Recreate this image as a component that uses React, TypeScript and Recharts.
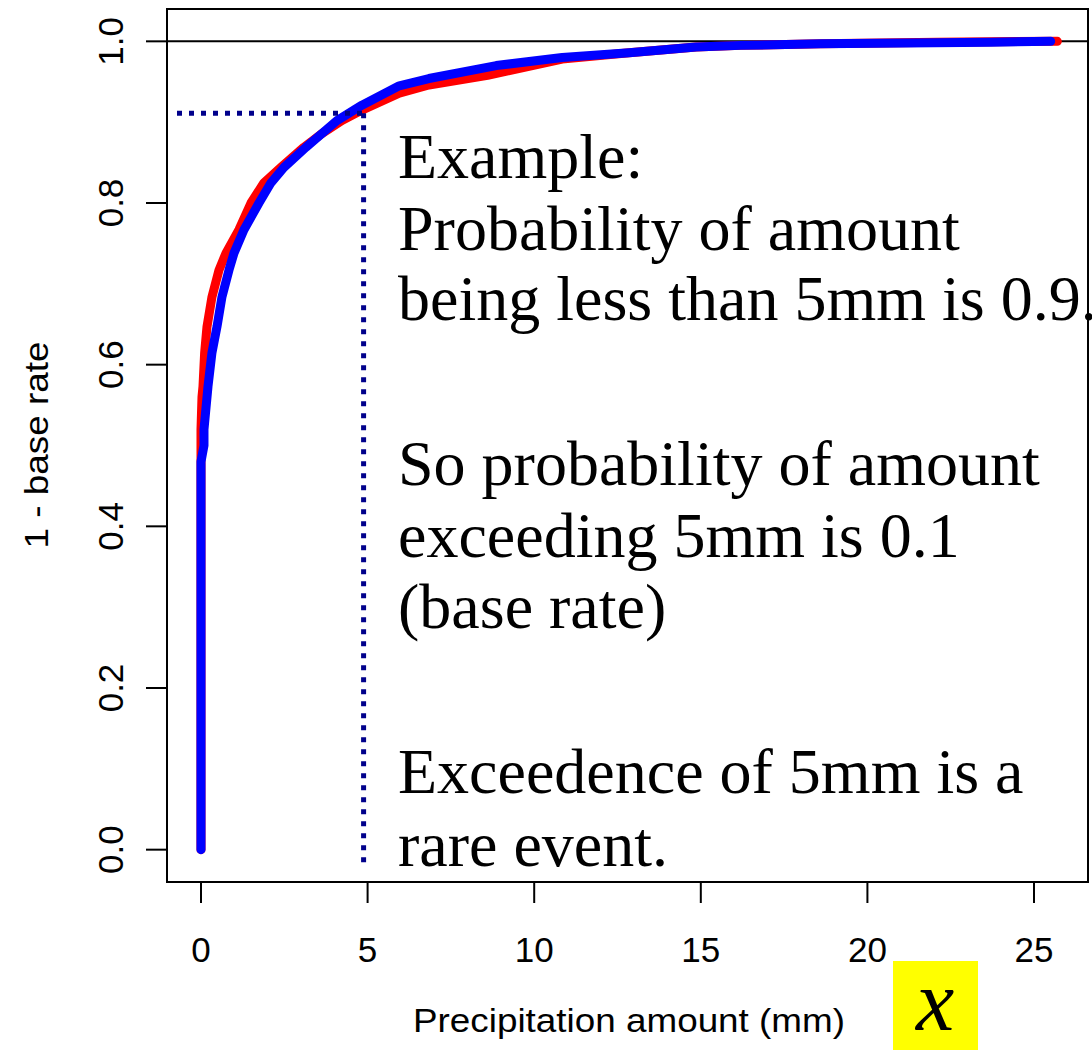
import { LineChart, Line, XAxis, YAxis, ReferenceLine, ReferenceArea } from 'recharts';

const redX = [0, 0, 0, 0.03, 0.06, 0.11, 0.18, 0.33, 0.54, 0.75, 1.14, 1.5, 1.89, 2.4, 3.09, 3.6, 4.23, 4.83, 5.95, 6.84, 8.6, 10.84, 12.85, 14.86, 16.2, 18.6, 22.1, 25.7];
const redY = [0, 0.47, 0.52, 0.56, 0.573, 0.615, 0.647, 0.684, 0.717, 0.738, 0.767, 0.8, 0.825, 0.844, 0.869, 0.885, 0.902, 0.915, 0.936, 0.946, 0.958, 0.978, 0.986, 0.993, 0.995, 0.997, 0.999, 1.0];
const blueX = [0, 0, 0.09, 0.09, 0.21, 0.33, 0.48, 0.63, 0.84, 0.99, 1.29, 1.74, 2.1, 2.49, 3.15, 3.6, 4.08, 4.83, 5.95, 6.84, 8.86, 10.84, 12.85, 14.86, 16.2, 18.6, 23.7, 25.5];
const blueY = [0, 0.48, 0.5, 0.52, 0.573, 0.615, 0.647, 0.684, 0.717, 0.738, 0.767, 0.8, 0.825, 0.844, 0.869, 0.885, 0.902, 0.921, 0.945, 0.954, 0.97, 0.98, 0.986, 0.993, 0.995, 0.997, 0.999, 1.0];

const xTicks = [0, 5, 10, 15, 20, 25];
const yTicks = [0, 0.2, 0.4, 0.6, 0.8, 1.0];

// example threshold: 5mm -> 0.91
const exampleX = 4.88;
const exampleP = 0.911;

const noteLines = [
  'Example:',
  'Probability of amount',
  'being less than 5mm is 0.9.',
  'So probability of amount',
  'exceeding 5mm is 0.1',
  '(base rate)',
  'Exceedence of 5mm is a',
  'rare event.',
];
const noteBaselines = [178, 250, 320, 485, 557, 628, 793, 866];

const X_DOMAIN: [number, number] = [-1.02, 26.62];
const Y_DOMAIN: [number, number] = [-0.04, 1.04];

const red = redX.map((x, i) => ({ x, y: redY[i] }));
const blue = blueX.map((x, i) => ({ x, y: blueY[i] }));

const sans = "'Liberation Sans', Arial, Helvetica, sans-serif";
const serif = "'Liberation Serif', 'Times New Roman', serif";

function XTick({ x, y, payload }: any) {
  return (
    <text x={x} y={y + 57} textAnchor="middle" fontSize={35} fontFamily={sans} fill="#000">
      {payload.value}
    </text>
  );
}

function YTick({ y, payload }: any) {
  const bx = 123;
  return (
    <text x={bx} y={y} transform={`rotate(-90 ${bx} ${y})`} textAnchor="middle" fontSize={35} fontFamily={sans} fill="#000">
      {Number(payload.value).toFixed(1)}
    </text>
  );
}

export default function App() {
  return (
    <div style={{ position: 'absolute', left: 0, top: 0, width: 1092, height: 1050, overflow: 'hidden', background: '#fff' }}>
      <LineChart width={1092} height={1050} data={red} margin={{ top: 9, right: 4, left: 0, bottom: 0 }}>
        <XAxis
          dataKey="x"
          type="number"
          domain={X_DOMAIN}
          allowDataOverflow
          ticks={xTicks}
          height={168}
          axisLine={false}
          tickSize={21}
          tickLine={{ stroke: '#000', strokeWidth: 2 }}
          tick={<XTick />}
        />
        <YAxis
          type="number"
          domain={Y_DOMAIN}
          allowDataOverflow
          ticks={yTicks}
          width={167}
          axisLine={false}
          tickSize={21}
          tickLine={{ stroke: '#000', strokeWidth: 2 }}
          tick={<YTick />}
        />
        <ReferenceArea x1={X_DOMAIN[0]} x2={X_DOMAIN[1]} y1={Y_DOMAIN[0]} y2={Y_DOMAIN[1]} fill="none" stroke="#000" strokeWidth={2} />
        <ReferenceLine y={1} stroke="#000" strokeWidth={2} />
        <Line data={red} dataKey="y" type="linear" stroke="#ff0000" strokeWidth={9} strokeLinecap="round" strokeLinejoin="round" dot={false} isAnimationActive={false} />
        <Line data={blue} dataKey="y" type="linear" stroke="#0000ff" strokeWidth={9} strokeLinecap="round" strokeLinejoin="round" dot={false} isAnimationActive={false} />
        <ReferenceLine
          segment={[{ x: -0.72, y: exampleP }, { x: exampleX, y: exampleP }]}
          stroke="#00008b"
          strokeWidth={5}
          strokeDasharray="5 7"
        />
        <ReferenceLine
          segment={[{ x: exampleX, y: exampleP }, { x: exampleX, y: -0.017 }]}
          stroke="#00008b"
          strokeWidth={5}
          strokeDasharray="5 7"
        />
      </LineChart>
      <svg width={1092} height={1050} style={{ position: 'absolute', left: 0, top: 0, pointerEvents: 'none' }}>
        {noteLines.map((t, i) => (
          <text key={i} x={398} y={noteBaselines[i]} fontSize={64} fontFamily={serif} fill="#000">
            {t}
          </text>
        ))}
        <text x={629} y={1032} textAnchor="middle" fontSize={33} fontFamily={sans} textLength={432} lengthAdjust="spacingAndGlyphs" fill="#000">
          Precipitation amount (mm)
        </text>
        <text x={48} y={445} transform="rotate(-90 48 445)" textAnchor="middle" fontSize={33} fontFamily={sans} textLength={207} lengthAdjust="spacingAndGlyphs" fill="#000">
          1 - base rate
        </text>
        <rect x={893} y={961} width={85} height={89} fill="#ffff00" />
        <text x={935} y={1030} textAnchor="middle" fontSize={86} fontStyle="italic" fontFamily={serif} fill="#000">
          x
        </text>
      </svg>
    </div>
  );
}
